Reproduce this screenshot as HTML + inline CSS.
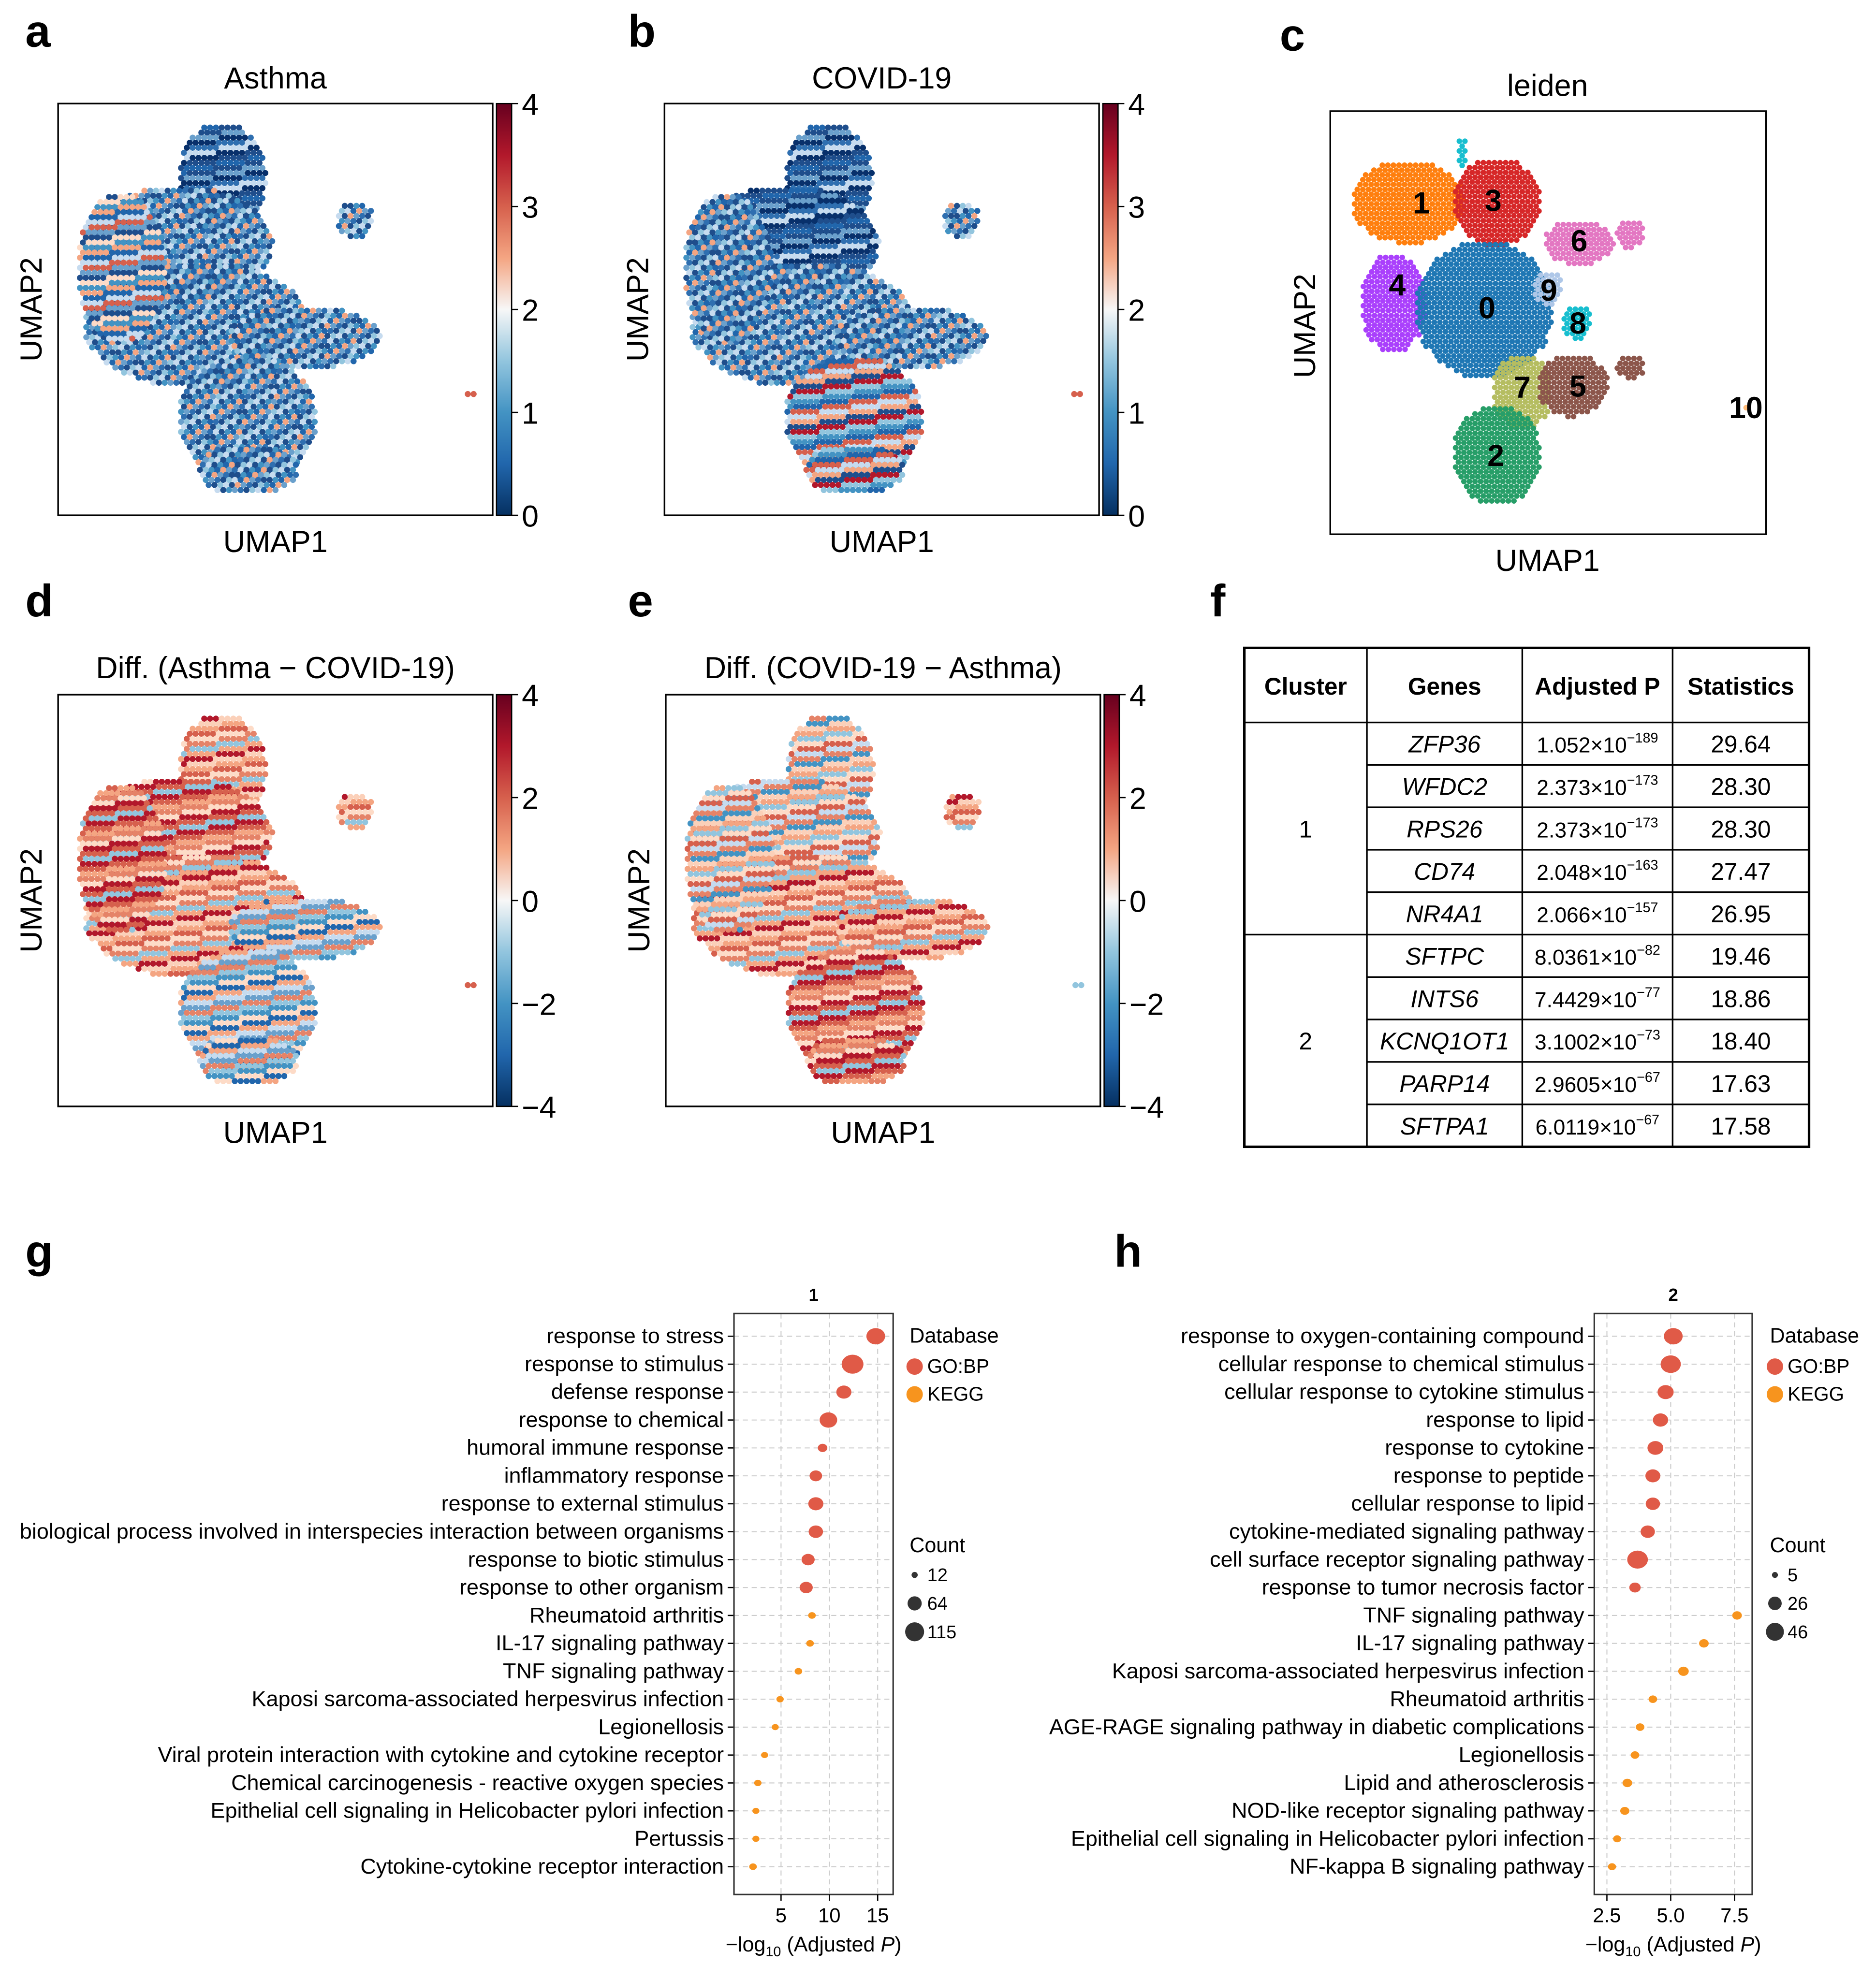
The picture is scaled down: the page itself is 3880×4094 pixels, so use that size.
<!DOCTYPE html>
<html><head><meta charset="utf-8">
<style>
html,body{margin:0;padding:0;background:#fff;}
svg{display:block;font-family:"Liberation Sans",Arial,sans-serif;}
</style></head>
<body>
<svg id="fig" width="3880" height="4094" viewBox="0 0 1485 1566.9" xmlns="http://www.w3.org/2000/svg">
<defs>
<linearGradient id="rdbu" x1="0" y1="1" x2="0" y2="0">
<stop offset="0" stop-color="#053061"/><stop offset="0.125" stop-color="#2166ac"/>
<stop offset="0.25" stop-color="#4393c3"/><stop offset="0.375" stop-color="#92c5de"/>
<stop offset="0.5" stop-color="#f7f7f7"/><stop offset="0.625" stop-color="#f4a582"/>
<stop offset="0.75" stop-color="#d6604d"/><stop offset="0.875" stop-color="#b2182b"/>
<stop offset="1" stop-color="#67001f"/></linearGradient>
</defs>
<g id="root"></g>
</svg>
<script>
// ---------- data ----------
const umapBlobs = [
 [130,60,35,45],[95,110,75,45],[110,175,90,50],[50,130,35,60],
 [195,185,60,25],[235,92,15,15],[150,250,55,50],[150,290,40,20],[326,230,4,4]
];
const blobPalA = ['blueD','blueM','blueM','mixA','blueM','blueM','blueM','blueM','red'];
const blobPalB = ['blueD','blueD','blueM','blueM','blueM','blueM','mixB','mixB','red'];
const blobPalD = ['redM','redH','redM','redH','mixD','redM','mixD','mixD','red'];
const blobPalE = ['mixE','mixE','redM','mixE','redM','redM','redH','redH','blueL'];
const palettes = {
 blueD:['#08306b','#1f4e8c','#2166ac','#1f4e8c','#6aa0cc','#08306b','#2f6fb0','#c6dbef'],
 blueM:['#2166ac','#6aa0cc','#1f4e8c','#c6dbef','#4393c3','#f4a582','#2f6fb0','#92c5de','#1f4e8c'],
 mixA:['#f4a582','#2166ac','#c6dbef','#d6604d','#6aa0cc','#1f4e8c','#fddbc7','#4393c3'],
 mixB:['#2166ac','#d6604d','#c6dbef','#f4a582','#1f4e8c','#b2182b','#92c5de','#4393c3'],
 redM:['#f4a582','#d6604d','#fddbc7','#e58368','#92c5de','#f4a582','#b2182b','#fbd0b9'],
 redH:['#b2182b','#d6604d','#f4a582','#e58368','#fddbc7','#b2182b','#d6604d','#92c5de'],
 mixD:['#92c5de','#4393c3','#fddbc7','#2166ac','#f4a582','#c6dbef','#6aa0cc','#e58368'],
 mixE:['#f4a582','#92c5de','#fddbc7','#d6604d','#c6dbef','#e58368','#4393c3','#fbd0b9'],
 red:['#b2182b','#d6604d'], blueL:['#92c5de','#c6dbef']
};
const leidenBlobs = [
 [1,1115,160,45,33],[3,1185,160,35,35],[6,1250,192,28,18],[6,1290,185,12,12],
 [4,1103,240,26,40],[0,1175,245,55,55],[9,1225,228,12,14],[8,1248,255,12,14],[8,1157,122,4,14],
 [7,1205,310,24,30],[5,1245,305,28,25],[5,1290,290,12,10],[2,1185,360,35,40],[10,1383,322,3,3]
];
const leidenColors = ['#1f77b4','#ff7f0e','#279e68','#d62728','#aa40fc','#8c564b','#e377c2','#b5bd61','#17becf','#aec7e8','#ffbb78'];
const leidenLabels = [[0,1177,243],[1,1125,160],[2,1184,360],[3,1182,158],[4,1106,225],[5,1249,305],[6,1250,190],[7,1205,306],[8,1249,255],[9,1226,229],[10,1382,322]];

const gTerms = ['response to stress','response to stimulus','defense response','response to chemical','humoral immune response','inflammatory response','response to external stimulus','biological process involved in interspecies interaction between organisms','response to biotic stimulus','response to other organism','Rheumatoid arthritis','IL-17 signaling pathway','TNF signaling pathway','Kaposi sarcoma-associated herpesvirus infection','Legionellosis','Viral protein interaction with cytokine and cytokine receptor','Chemical carcinogenesis - reactive oxygen species','Epithelial cell signaling in Helicobacter pylori infection','Pertussis','Cytokine-cytokine receptor interaction'];
const gValues = [14.8,12.4,11.5,9.9,9.3,8.6,8.6,8.6,7.8,7.6,8.2,8.0,6.8,4.9,4.4,3.3,2.6,2.4,2.4,2.1];
const gCounts = [85,115,55,75,22,38,55,50,42,42,14,14,14,13,12,12,13,12,12,14];
const gDb = ['GO','GO','GO','GO','GO','GO','GO','GO','GO','GO','K','K','K','K','K','K','K','K','K','K'];
const gTicks = [5,10,15];
const gSizeLegend = [12,64,115];
const hTerms = ['response to oxygen-containing compound','cellular response to chemical stimulus','cellular response to cytokine stimulus','response to lipid','response to cytokine','response to peptide','cellular response to lipid','cytokine-mediated signaling pathway','cell surface receptor signaling pathway','response to tumor necrosis factor','TNF signaling pathway','IL-17 signaling pathway','Kaposi sarcoma-associated herpesvirus infection','Rheumatoid arthritis','AGE-RAGE signaling pathway in diabetic complications','Legionellosis','Lipid and atherosclerosis','NOD-like receptor signaling pathway','Epithelial cell signaling in Helicobacter pylori infection','NF-kappa B signaling pathway'];
const hValues = [5.1,5.0,4.8,4.6,4.4,4.3,4.3,4.1,3.7,3.6,7.6,6.3,5.5,4.3,3.8,3.6,3.3,3.2,2.9,2.7];
const hCounts = [38,44,28,25,27,24,22,22,46,14,10,10,12,8,8,8,10,9,7,7];
const hDb = ['GO','GO','GO','GO','GO','GO','GO','GO','GO','GO','K','K','K','K','K','K','K','K','K','K'];
const hTicks = [2.5,5.0,7.5];
const hSizeLegend = [5,26,46];

// ---------- drawing ----------
const NS='http://www.w3.org/2000/svg';
const root=document.getElementById('root');
function mk(tag,attrs,parent,txt){const e=document.createElementNS(NS,tag);for(const k in attrs)e.setAttribute(k,attrs[k]);if(txt!==undefined)e.textContent=txt;(parent||root).appendChild(e);return e;}
function text(x,y,s,size,opts,parent){opts=opts||{};const a={x:x,y:y,'font-size':size,fill:'#000','text-anchor':opts.anchor||'middle'};if(opts.weight)a['font-weight']=opts.weight;if(opts.style)a['font-style']=opts.style;if(opts.tr)a.transform=opts.tr;return mk('text',a,parent,s);}

function panelLetter(l,x,y){const t=text(x,y,l,36,{weight:'bold',anchor:'start'});}
panelLetter('a',20,37);panelLetter('b',497,37);panelLetter('c',1013,40);
panelLetter('d',20,488);panelLetter('e',497,488);panelLetter('f',958,488);
panelLetter('g',20,1003);panelLetter('h',882,1003);

function dotsInBlob(g,cx,cy,rx,ry,pal,sp,r){
  let row=0;
  for(let y=cy-ry;y<=cy+ry;y+=sp*0.87,row++){
    const off=(row%2)*sp/2;
    for(let x=cx-rx+off;x<=cx+rx;x+=sp){
      const dx=(x-cx)/rx,dy=(y-cy)/ry;
      if(dx*dx+dy*dy>1)continue;
      const idx=Math.abs(Math.round(x*7+y*13+row*5))%pal.length;
      mk('circle',{cx:x.toFixed(1),cy:y.toFixed(1),r:r,fill:pal[idx]},g);
    }
  }
}

function umapPanel(name,bx,by,title,titleY,blobPal,ticks){
  const g=mk('g',{});
  
  
  const t=text(bx+172,titleY,title,24,{},g);
  
  const dg=mk('g',{},g);
  
  umapBlobs.forEach((b,i)=>dotsInBlob(dg,bx+b[0],by+b[1],b[2],b[3],palettes[blobPal[i]],4.6,2.4));
  const box=mk('rect',{x:bx,y:by,width:344,height:326,fill:'none',stroke:'#000','stroke-width':1.3},g);
  
  const cb=mk('rect',{x:bx+347,y:by,width:12,height:326,fill:'url(#rdbu)',stroke:'#000','stroke-width':1},g);
  
  ticks.forEach((v,i)=>{const y=by+326-i*326/(ticks.length-1);
    mk('line',{x1:bx+359,x2:bx+364,y1:y,y2:y,stroke:'#000','stroke-width':1},g);
    text(bx+367,y+9,v,24,{anchor:'start'},g);});
  const xl=text(bx+172,by+355,'UMAP1',24,{},g);
  const yl=text(0,0,'UMAP2',24,{tr:'translate('+(bx-13)+','+(by+163)+') rotate(-90)'},g);
}
umapPanel('asthma',46,82,'Asthma',70,blobPalA,['0','1','2','3','4']);
umapPanel('covid',526,82,'COVID-19',70,blobPalB,['0','1','2','3','4']);
umapPanel('diff-asthma-covid',46,550,'Diff. (Asthma − COVID-19)',537,blobPalD,['−4','−2','0','2','4']);
umapPanel('diff-covid-asthma',527,550,'Diff. (COVID-19 − Asthma)',537,blobPalE,['−4','−2','0','2','4']);

(function(){
  const g=mk('g',{});
  const t=text(1225,76,'leiden',24,{},g);
  leidenBlobs.forEach(b=>{const cg=mk('g',{},g);
    dotsInBlob(cg,b[1],b[2],b[3],b[4],[leidenColors[b[0]]],4.4,2.2);});
  leidenLabels.forEach(l=>{const tt=text(l[1],l[2]+9,String(l[0]),24,{weight:'bold'},g);});
  const box=mk('rect',{x:1053,y:88,width:345,height:335,fill:'none',stroke:'#000','stroke-width':1.3},g);
  
  const xl=text(1225,452,'UMAP1',24,{},g);
  const yl=text(0,0,'UMAP2',24,{tr:'translate(1041,258) rotate(-90)'},g);
})();

(function(){
  const g=mk('g',{});
  const cols=[985,1082,1205,1324,1432];const top=513,hdr=572,bot=908;const rh=(bot-hdr)/10;
  const heads=['Cluster','Genes','Adjusted P','Statistics'];
  heads.forEach((h,i)=>{const t=text((cols[i]+cols[i+1])/2,hdr-22,h,19,{weight:'bold'},g);});
  const genes=['ZFP36','WFDC2','RPS26','CD74','NR4A1','SFTPC','INTS6','KCNQ1OT1','PARP14','SFTPA1'];
  const pm=['1.052','2.373','2.373','2.048','2.066','8.0361','7.4429','3.1002','2.9605','6.0119'];
  const pe=['−189','−173','−173','−163','−157','−82','−77','−73','−67','−67'];
  const st=['29.64','28.30','28.30','27.47','26.95','19.46','18.86','18.40','17.63','17.58'];
  genes.forEach((gn,i)=>{const y=hdr+rh*i+rh/2+7;
    text((cols[1]+cols[2])/2,y,gn,19,{style:'italic'},g);
    const t=mk('text',{x:(cols[2]+cols[3])/2,y:y,'font-size':17,'text-anchor':'middle',fill:'#000'},g);
    mk('tspan',{},t,pm[i]+'×10');mk('tspan',{'font-size':11,dy:-8},t,pe[i]);
    text((cols[3]+cols[4])/2,y,st[i],19,{},g);});
  text((cols[0]+cols[1])/2,hdr+rh*2.5+7,'1',19,{},g);
  text((cols[0]+cols[1])/2,hdr+rh*7.5+7,'2',19,{},g);
  const L={stroke:'#000','stroke-width':1.3};
  mk('rect',{x:cols[0],y:top,width:cols[4]-cols[0],height:bot-top,fill:'none',stroke:'#000','stroke-width':2},g);
  mk('line',Object.assign({x1:cols[0],x2:cols[4],y1:hdr,y2:hdr},L),g);
  mk('line',Object.assign({x1:cols[0],x2:cols[4],y1:hdr+rh*5,y2:hdr+rh*5},L),g);
  for(let i=1;i<10;i++){if(i==5)continue;mk('line',Object.assign({x1:cols[1],x2:cols[4],y1:hdr+rh*i,y2:hdr+rh*i},L),g);}
  for(let i=1;i<4;i++)mk('line',Object.assign({x1:cols[i],x2:cols[i],y1:top,y2:bot},L),g);
})();

function dotPanel(name,title,terms,vals,counts,db,ticks,sizeLeg,o){
  const g=mk('g',{});
  const x=v=>o.x0+v*o.k;
  const yTop=1058,step=(1478-1058)/19;const y=i=>yTop+i*step;
  const rad=c=>Math.sqrt(c)*o.rk;
  ticks.forEach(tv=>mk('line',{x1:x(tv),x2:x(tv),y1:o.bx,y2:1500,stroke:'#ccc','stroke-width':0.8,'stroke-dasharray':'4,3'},g));
  terms.forEach((t,i)=>{mk('line',{x1:o.bl,x2:o.br,y1:y(i),y2:y(i),stroke:'#ccc','stroke-width':0.8,'stroke-dasharray':'4,3'},g);
    mk('line',{x1:o.bl-5,x2:o.bl,y1:y(i),y2:y(i),stroke:'#000','stroke-width':1},g);
    const lt=text(o.bl-8,y(i)+5.5,t,17.2,{anchor:'end'},g);});
  terms.forEach((t,i)=>{const c=mk('ellipse',{cx:x(vals[i]),cy:y(i),rx:rad(counts[i])*1.15,ry:rad(counts[i]),fill:db[i]=='GO'?'#e05a47':'#f7941e'},g);
    });
  const fr=mk('rect',{x:o.bl,y:1040,width:o.br-o.bl,height:460,fill:'none',stroke:'#333','stroke-width':1.2},g);
  
  text((o.bl+o.br)/2,1030,title,14,{weight:'bold'},g);
  ticks.forEach(tv=>{mk('line',{x1:x(tv),x2:x(tv),y1:1500,y2:1505,stroke:'#000'},g);text(x(tv),1522,String(tv===5&&o.dec?'5.0':tv),16,{},g);});
  const xt=mk('text',{x:(o.bl+o.br)/2,y:1545,'font-size':16.5,'text-anchor':'middle'},g);
  mk('tspan',{},xt,'−log');mk('tspan',{'font-size':11,dy:4},xt,'10');mk('tspan',{dy:-4},xt,' (Adjusted ');mk('tspan',{'font-style':'italic'},xt,'P');mk('tspan',{},xt,')');
  
  const lg=mk('g',{},g);
  text(o.lx,1063,'Database',16.5,{anchor:'start'},lg);
  mk('circle',{cx:o.lx+4,cy:1082,r:6.5,fill:'#e05a47'},lg);text(o.lx+14,1087,'GO:BP',15.5,{anchor:'start'},lg);
  mk('circle',{cx:o.lx+4,cy:1104,r:6.5,fill:'#f7941e'},lg);text(o.lx+14,1109,'KEGG',15.5,{anchor:'start'},lg);
  text(o.lx,1229,'Count',16.5,{anchor:'start'},lg);
  sizeLeg.forEach((s,i)=>{const yy=1247+i*22.5;mk('circle',{cx:o.lx+4,cy:yy,r:rad(s),fill:'#333'},lg);text(o.lx+14,yy+5,String(s),14.5,{anchor:'start'},lg);});
}
dotPanel('enrichment-cluster-1','1',gTerms,gValues,gCounts,gDb,gTicks,gSizeLegend,{x0:580,k:7.65,bl:581,br:707,bx:1040,rk:0.7,lx:720});
dotPanel('enrichment-cluster-2','2',hTerms,hValues,hCounts,hDb,hTicks,hSizeLegend,{x0:1221.5,k:20.2,bl:1262,br:1387,bx:1040,rk:1.05,lx:1401,dec:true});
</script>
</body></html>
